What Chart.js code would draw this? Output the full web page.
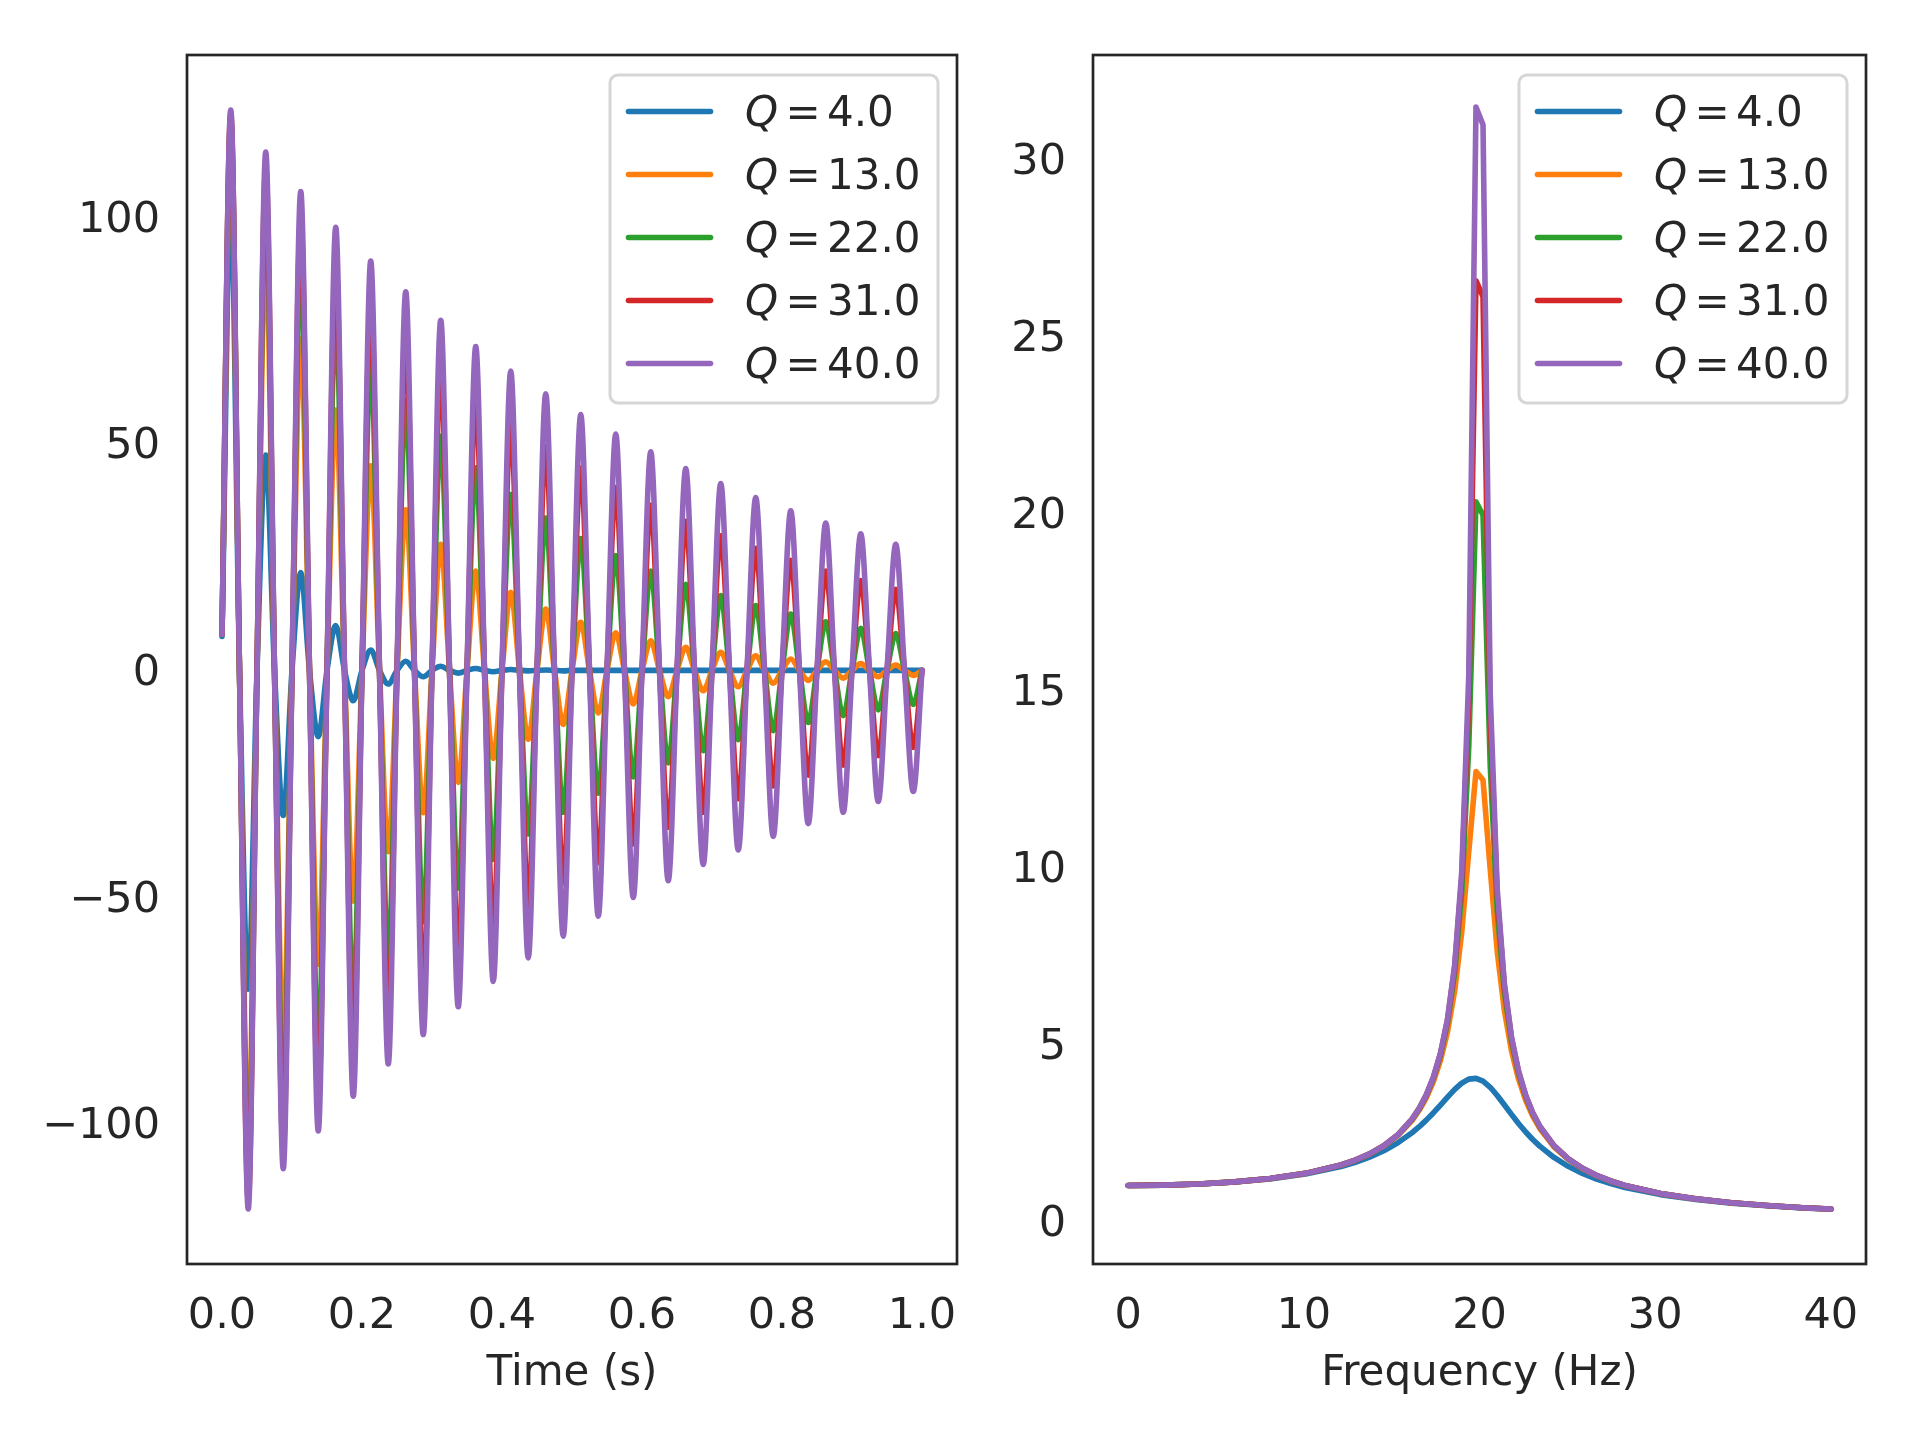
<!DOCTYPE html>
<html>
<head>
<meta charset="utf-8">
<title>Damped oscillator - time and frequency response</title>
<script src="https://cdn.jsdelivr.net/npm/chart.js@4.4.0/dist/chart.umd.min.js"></script>
<style>
    html, body { margin: 0; padding: 0; background: #ffffff; }
    #page { position: relative; width: 1920px; height: 1440px; background: #ffffff; }
    canvas { position: absolute; top: 0; }
    #timeChart { left: 0; }
    #freqChart { left: 1000px; }
</style>
</head>
<body>
<div id="page">
    <canvas id="timeChart" width="1000" height="1440"></canvas>
    <canvas id="freqChart" width="920" height="1440"></canvas>
</div>
<script>
// Q values shown in the legends, and their colours
const qLabels = ['4.0', '13.0', '22.0', '31.0', '40.0'];
const qColors = ['#1f77b4', '#ff7f0e', '#2ca02c', '#d62728', '#9467bd'];

// time samples (s): start, then peak / zero crossing every quarter period
const timeS = [
    0,
    0.0125, 0.025, 0.0375, 0.05, 0.0625, 0.075, 0.0875, 0.1, 0.1125, 0.125,
    0.1375, 0.15, 0.1625, 0.175, 0.1875, 0.2, 0.2125, 0.225, 0.2375, 0.25,
    0.2625, 0.275, 0.2875, 0.3, 0.3125, 0.325, 0.3375, 0.35, 0.3625, 0.375,
    0.3875, 0.4, 0.4125, 0.425, 0.4375, 0.45, 0.4625, 0.475, 0.4875, 0.5,
    0.5125, 0.525, 0.5375, 0.55, 0.5625, 0.575, 0.5875, 0.6, 0.6125, 0.625,
    0.6375, 0.65, 0.6625, 0.675, 0.6875, 0.7, 0.7125, 0.725, 0.7375, 0.75,
    0.7625, 0.775, 0.7875, 0.8, 0.8125, 0.825, 0.8375, 0.85, 0.8625, 0.875,
    0.8875, 0.9, 0.9125, 0.925, 0.9375, 0.95, 0.9625, 0.975, 0.9875, 1.0
];

// impulse responses
const respQ4 = [
    7.5,
    104.1, 0, -70.3, 0, 47.5, 0, -32.0, 0, 21.6, 0,
    -14.6, 0, 9.9, 0, -6.7, 0, 4.5, 0, -3.0, 0,
    2.0, 0, -1.4, 0, 0.9, 0, -0.6, 0, 0.4, 0,
    -0.3, 0, 0.2, 0, -0.1, 0, 0.1, 0, -0.1, 0,
    0, 0, 0, 0, 0, 0, 0, 0, 0, 0,
    0, 0, 0, 0, 0, 0, 0, 0, 0, 0,
    0, 0, 0, 0, 0, 0, 0, 0, 0, 0,
    0, 0, 0, 0, 0, 0, 0, 0, 0, 0
];
const respQ13 = [
    8,
    118.6, 0, -105.1, 0, 93.1, 0, -82.5, 0, 73.1, 0,
    -64.8, 0, 57.4, 0, -50.9, 0, 45.1, 0, -40.0, 0,
    35.4, 0, -31.4, 0, 27.8, 0, -24.7, 0, 21.9, 0,
    -19.4, 0, 17.2, 0, -15.2, 0, 13.5, 0, -11.9, 0,
    10.6, 0, -9.4, 0, 8.3, 0, -7.4, 0, 6.5, 0,
    -5.8, 0, 5.1, 0, -4.5, 0, 4.0, 0, -3.6, 0,
    3.2, 0, -2.8, 0, 2.5, 0, -2.2, 0, 1.9, 0,
    -1.7, 0, 1.5, 0, -1.4, 0, 1.2, 0, -1.1, 0
];
const respQ22 = [
    8,
    121.6, 0, -113.2, 0, 105.4, 0, -98.2, 0, 91.4, 0,
    -85.1, 0, 79.2, 0, -73.8, 0, 68.7, 0, -64.0, 0,
    59.6, 0, -55.4, 0, 51.6, 0, -48.0, 0, 44.7, 0,
    -41.7, 0, 38.8, 0, -36.1, 0, 33.6, 0, -31.3, 0,
    29.1, 0, -27.1, 0, 25.3, 0, -23.5, 0, 21.9, 0,
    -20.4, 0, 19.0, 0, -17.7, 0, 16.5, 0, -15.3, 0,
    14.3, 0, -13.3, 0, 12.4, 0, -11.5, 0, 10.7, 0,
    -10.0, 0, 9.3, 0, -8.7, 0, 8.1, 0, -7.5, 0
];
const respQ31 = [
    8,
    122.8, 0, -116.7, 0, 111.0, 0, -105.5, 0, 100.3, 0,
    -95.3, 0, 90.6, 0, -86.2, 0, 81.9, 0, -77.8, 0,
    74.0, 0, -70.3, 0, 66.9, 0, -63.6, 0, 60.4, 0,
    -57.4, 0, 54.6, 0, -51.9, 0, 49.3, 0, -46.9, 0,
    44.6, 0, -42.4, 0, 40.3, 0, -38.3, 0, 36.4, 0,
    -34.6, 0, 32.9, 0, -31.3, 0, 29.7, 0, -28.3, 0,
    26.9, 0, -25.5, 0, 24.3, 0, -23.1, 0, 21.9, 0,
    -20.9, 0, 19.8, 0, -18.8, 0, 17.9, 0, -17.0, 0
];
const respQ40 = [
    8,
    123.6, 0, -118.8, 0, 114.3, 0, -109.9, 0, 105.6, 0,
    -101.6, 0, 97.7, 0, -93.9, 0, 90.3, 0, -86.8, 0,
    83.5, 0, -80.3, 0, 77.2, 0, -74.2, 0, 71.4, 0,
    -68.6, 0, 66.0, 0, -63.4, 0, 61.0, 0, -58.6, 0,
    56.4, 0, -54.2, 0, 52.1, 0, -50.1, 0, 48.2, 0,
    -46.4, 0, 44.5, 0, -42.8, 0, 41.2, 0, -39.6, 0,
    38.1, 0, -36.6, 0, 35.2, 0, -33.8, 0, 32.5, 0,
    -31.3, 0, 30.1, 0, -28.9, 0, 27.8, 0, -26.7, 0
];

// frequency samples (Hz), denser around the resonance
const freqHz = [
    0, 2.02, 4.04, 6.06, 8.08, 10.10, 12.12, 12.93, 13.74, 14.55, 15.35,
    16.16, 16.57, 16.97, 17.37, 17.78, 18.18, 18.59, 18.99, 19.39, 19.80, 20.20,
    20.61, 21.01, 21.41, 21.82, 22.22, 22.63, 23.03, 23.43, 24.24, 25.05,
    25.86, 26.67, 27.47, 28.28, 30.30, 32.32, 34.34, 36.36, 38.38, 40.00
];

// magnitude responses
const magQ4 = [
    1.000, 1.010, 1.041, 1.097, 1.186, 1.323, 1.537, 1.656, 1.801, 1.981, 2.205,
    2.490, 2.661, 2.847, 3.050, 3.272, 3.496, 3.714, 3.892, 4.005, 4.027, 3.948,
    3.774, 3.542, 3.280, 3.007, 2.752, 2.511, 2.299, 2.111, 1.791, 1.540,
    1.341, 1.181, 1.052, 0.943, 0.741, 0.602, 0.501, 0.426, 0.367, 0.329
];
const magQ13 = [
    1.000, 1.010, 1.042, 1.101, 1.194, 1.341, 1.576, 1.712, 1.884, 2.110, 2.408,
    2.835, 3.125, 3.478, 3.927, 4.534, 5.341, 6.508, 8.16, 10.44, 12.70, 12.46,
    9.94, 7.61, 5.966, 4.808, 4.010, 3.407, 2.960, 2.610, 2.091, 1.733,
    1.473, 1.274, 1.120, 0.995, 0.769, 0.619, 0.512, 0.433, 0.372, 0.333
];
const magQ22 = [
    1.000, 1.010, 1.042, 1.101, 1.195, 1.342, 1.579, 1.716, 1.890, 2.119, 2.425,
    2.865, 3.166, 3.538, 4.018, 4.683, 5.601, 7.021, 9.31, 13.42, 20.32, 19.95,
    12.88, 8.77, 6.497, 5.085, 4.172, 3.509, 3.029, 2.658, 2.117, 1.749,
    1.483, 1.281, 1.125, 0.999, 0.771, 0.620, 0.513, 0.434, 0.372, 0.333
];
const magQ31 = [
    1.000, 1.010, 1.042, 1.101, 1.195, 1.342, 1.580, 1.717, 1.892, 2.122, 2.429,
    2.873, 3.177, 3.554, 4.044, 4.725, 5.677, 7.180, 9.70, 14.76, 26.57, 26.12,
    14.23, 9.17, 6.665, 5.168, 4.219, 3.538, 3.047, 2.672, 2.125, 1.754,
    1.486, 1.283, 1.127, 1.000, 0.772, 0.621, 0.513, 0.434, 0.372, 0.333
];
const magQ40 = [
    1.000, 1.010, 1.042, 1.101, 1.195, 1.342, 1.580, 1.718, 1.893, 2.123, 2.431,
    2.876, 3.182, 3.561, 4.054, 4.743, 5.708, 7.247, 9.88, 15.43, 31.48, 30.98,
    14.91, 9.36, 6.736, 5.202, 4.238, 3.550, 3.055, 2.677, 2.128, 1.756,
    1.487, 1.284, 1.127, 1.000, 0.772, 0.621, 0.513, 0.434, 0.372, 0.333
];

// tick positions and labels
const timeTicks = [0, 0.2, 0.4, 0.6, 0.8, 1.0];
const timeTickLabels = ['0.0', '0.2', '0.4', '0.6', '0.8', '1.0'];
const ampTicks = [-100, -50, 0, 50, 100];
const ampTickLabels = ['\u2212100', '\u221250', '0', '50', '100'];
const freqTicks = [0, 10, 20, 30, 40];
const freqTickLabels = ['0', '10', '20', '30', '40'];
const magTicks = [0, 5, 10, 15, 20, 25, 30];
const magTickLabels = ['0', '5', '10', '15', '20', '25', '30'];

const textColor = '#262626';
const fontFamily = '"DejaVu Sans", "Liberation Sans", sans-serif';
const lineWidth = 5.6;

// build the datasets of one panel
function buildDatasets(xs, seriesList, smooth) {
    return seriesList.map((ys, i) => ({
        label: 'Q = ' + qLabels[i],
        data: xs.map((x, k) => ({ x: x, y: ys[k] })),
        borderColor: qColors[i],
        backgroundColor: qColors[i],
        borderWidth: lineWidth,
        pointRadius: 0,
        pointHoverRadius: 0,
        fill: false,
        clip: 0,
        // last series is drawn on top, as in the original
        order: seriesList.length - 1 - i,
        tension: 0,
        cubicInterpolationMode: smooth ? 'monotone' : 'default',
        borderCapStyle: 'round',
        borderJoinStyle: 'round'
    }));
}

function xScale(min, max, values, labels, title) {
    return {
        type: 'linear',
        position: 'bottom',
        min: min,
        max: max,
        grid: { display: false, drawTicks: false },
        border: { display: false },
        afterBuildTicks: scale => { scale.ticks = values.map(v => ({ value: v })); },
        afterFit: scale => { scale.height = 176; },
        ticks: {
            autoSkip: false,
            maxRotation: 0,
            minRotation: 0,
            padding: 27,
            color: textColor,
            font: { family: fontFamily, size: 43, lineHeight: 1.2 },
            callback: (value, index) => labels[index]
        },
        title: {
            display: true,
            text: title,
            color: textColor,
            font: { family: fontFamily, size: 42, lineHeight: 1.2 },
            padding: { top: 0, bottom: 41 }
        }
    };
}

function yScale(min, max, values, labels, width) {
    return {
        type: 'linear',
        position: 'left',
        min: min,
        max: max,
        grid: { display: false, drawTicks: false },
        border: { display: false },
        afterBuildTicks: scale => { scale.ticks = values.map(v => ({ value: v })); },
        afterFit: scale => { scale.width = width; },
        ticks: {
            autoSkip: false,
            padding: 27,
            labelOffset: 3.5,
            color: textColor,
            font: { family: fontFamily, size: 43, lineHeight: 1.2 },
            callback: (value, index) => labels[index]
        }
    };
}

// axes frame and the legend box in the upper right corner
const frameAndLegend = {
    id: 'frameAndLegend',
    afterDatasetsDraw(chart) {
        const ctx = chart.ctx;
        const area = chart.chartArea;
        ctx.save();

        ctx.strokeStyle = textColor;
        ctx.lineWidth = 2.7;
        ctx.strokeRect(area.left, area.top, area.right - area.left, area.bottom - area.top);

        const boxW = 328, boxH = 328, r = 8;
        const bx = area.right - 19 - boxW;
        const by = area.top + 20;
        ctx.beginPath();
        ctx.moveTo(bx + r, by);
        ctx.arcTo(bx + boxW, by, bx + boxW, by + boxH, r);
        ctx.arcTo(bx + boxW, by + boxH, bx, by + boxH, r);
        ctx.arcTo(bx, by + boxH, bx, by, r);
        ctx.arcTo(bx, by, bx + boxW, by, r);
        ctx.closePath();
        ctx.fillStyle = 'rgba(255, 255, 255, 0.8)';
        ctx.fill();
        ctx.strokeStyle = '#d6d6d6';
        ctx.lineWidth = 3;
        ctx.stroke();

        chart.data.datasets.forEach((ds, i) => {
            const y = by + 36.5 + 63 * i;
            ctx.strokeStyle = ds.borderColor;
            ctx.lineWidth = lineWidth;
            ctx.lineCap = 'round';
            ctx.beginPath();
            ctx.moveTo(bx + 18.5, y);
            ctx.lineTo(bx + 100.5, y);
            ctx.stroke();

            ctx.fillStyle = textColor;
            ctx.textBaseline = 'middle';
            ctx.textAlign = 'left';
            ctx.font = 'italic 42px ' + fontFamily;
            ctx.fillText('Q', bx + 135, y + 4);
            ctx.font = '42px ' + fontFamily;
            ctx.textAlign = 'center';
            ctx.fillText('=', bx + 193, y + 4);
            ctx.textAlign = 'left';
            ctx.fillText(qLabels[i], bx + 217, y + 4);
        });
        ctx.restore();
    }
};

function baseOptions(padRight, scales) {
    return {
        responsive: false,
        animation: false,
        devicePixelRatio: 1,
        events: [],
        layout: { autoPadding: false, padding: { left: 0, top: 55, right: padRight, bottom: 0 } },
        plugins: { legend: { display: false }, tooltip: { enabled: false } },
        scales: scales
    };
}

// left panel: time response
new Chart(document.getElementById('timeChart'), {
    type: 'line',
    data: { datasets: buildDatasets(timeS, [respQ4, respQ13, respQ22, respQ31, respQ40], true) },
    options: baseOptions(43, {
        x: xScale(-0.05, 1.05, timeTicks, timeTickLabels, 'Time (s)'),
        y: yScale(-130.92, 135.72, ampTicks, ampTickLabels, 187)
    }),
    plugins: [frameAndLegend]
});

// right panel: frequency response
new Chart(document.getElementById('freqChart'), {
    type: 'line',
    data: { datasets: buildDatasets(freqHz, [magQ4, magQ13, magQ22, magQ31, magQ40], false) },
    options: baseOptions(54, {
        x: xScale(-2, 42, freqTicks, freqTickLabels, 'Frequency (Hz)'),
        y: yScale(-1.22, 32.95, magTicks, magTickLabels, 93)
    }),
    plugins: [frameAndLegend]
});
</script>
</body>
</html>
